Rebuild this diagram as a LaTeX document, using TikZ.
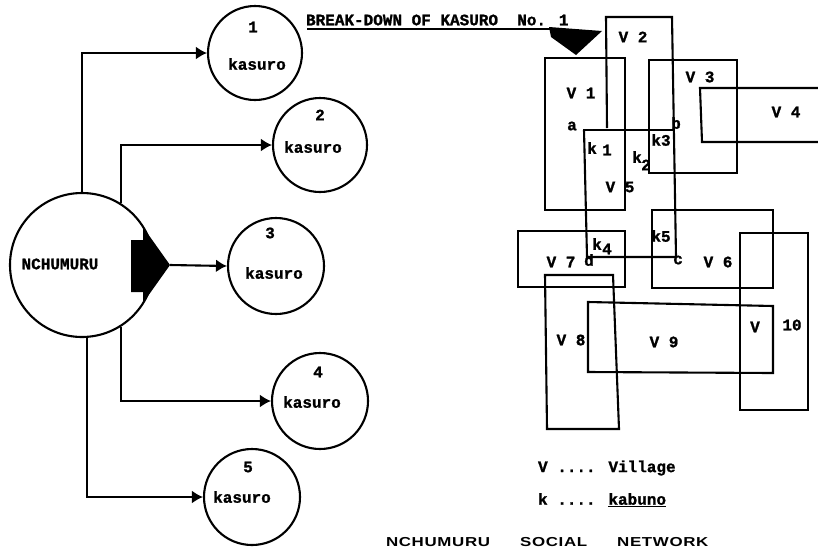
\documentclass[tikz,border=0pt]{standalone}
\usepackage{fontspec}
\newfontfamily\tw[FakeBold=1.2]{Liberation Mono}
\newfontfamily\ttl[FakeStretch=1.3,LetterSpace=5]{Liberation Sans}
\usetikzlibrary{arrows.meta}
\begin{document}
\begin{tikzpicture}[x=1pt,y=-1pt,line width=2.1pt,
  txt/.style={font=\tw\bfseries\fontsize{16}{16}\selectfont,inner sep=0pt},
  kas/.style={circle,draw,minimum size=#1,inner sep=0pt},
  arr/.style={-{Latex[length=11pt,width=13pt]}}]
\useasboundingbox (0,0) rectangle (818,555);
% left: network of kasuro
\node[kas=144pt] (N) at (82,265) {};
\node[txt] at (60,264) {NCHUMURU};
\fill (131,240) -- (143,240) -- (143,227) -- (170,265) -- (143,303) -- (143,292) -- (131,292) -- cycle;
\coordinate (tip) at (170,265);
\node[kas=94pt] (c1) at (255,53) {};
\node[kas=94pt] (c2) at (320,145) {};
\node[kas=96pt] (c3) at (276,266) {};
\node[kas=96pt] (c4) at (320,401) {};
\node[kas=96pt] (c5) at (252,497) {};
\node[txt] at (253,27) {1};
\node[txt] at (257,64) {kasuro};
\node[txt] at (320,115) {2};
\node[txt] at (313,147) {kasuro};
\node[txt] at (270,233) {3};
\node[txt] at (274,273) {kasuro};
\node[txt] at (318,372) {4};
\node[txt] at (312,402) {kasuro};
\node[txt] at (248,467) {5};
\node[txt] at (242,497) {kasuro};
\draw[arr] (N.north) |- (c1.west);
\draw[arr] (N.58) |- (c2.west);
\draw[arr] (tip) -- (c3.west);
\draw[arr] (N.-58) |- (c4.west);
\draw[arr] (N.-86) |- (c5.west);
% title of break-down
\node[txt,anchor=west] (bd) at (305,20) {BREAK-DOWN OF KASURO\ \ No. 1};
\draw (307,29) -- (560,29);
\fill (549,27) -- (602,31) -- (576,55) -- (551,37) -- cycle;
% break-down boxes
\draw (607,128) -- (606,17) -- (672,17) -- (676,257);
\draw (545,58) rectangle (625,210);
\draw (649,60) rectangle (737,173);
\draw (818,88) -- (700,88) -- (702,142) -- (818,142);
\draw (583,130) -- (673,130);
\draw (584,130) -- (587,257) -- (676,257);
\draw (652,210) rectangle (773,288);
\draw (740,233) rectangle (808,410);
\draw (518,231) rectangle (625,287);
\draw (545,275) -- (613,275) -- (619,429) -- (547,429) -- cycle;
\draw (588,302) -- (773,306) -- (773,373) -- (588,372) -- cycle;
% labels
\node[txt] at (633,37) {V 2};
\node[txt] at (581,93) {V 1};
\node[txt] at (700,77) {V 3};
\node[txt] at (786,112) {V 4};
\node[txt] at (572,126) {a};
\node[txt] at (676,123) {b};
\node[txt] at (661,140) {k3};
\node[txt] at (592,148) {k};
\node[txt] at (607,150) {1};
\node[txt] at (637,157) {k};
\node[txt] at (646,165) {2};
\node[txt] at (620,187) {V 5};
\node[txt] at (597,244) {k};
\node[txt] at (607,249) {4};
\node[txt] at (661,236) {k5};
\node[txt] at (561,262) {V 7};
\node[txt] at (589,260) {d};
\node[txt] at (678,260) {c};
\node[txt] at (718,262) {V 6};
\node[txt] at (571,340) {V 8};
\node[txt] at (664,342) {V 9};
\node[txt] at (755,327) {V};
\node[txt] at (792,325) {10};
% legend
\node[txt,anchor=west] at (537,468) {V .... Village};
\node[txt,anchor=west] at (537,500) {k .... \underline{kabuno}};
\node[font=\ttl\bfseries\fontsize{13}{13}\selectfont,inner sep=0pt,anchor=west] at (385,542) {NCHUMURU\hspace{30pt}SOCIAL\hspace{30pt}NETWORK};
\end{tikzpicture}
\end{document}
